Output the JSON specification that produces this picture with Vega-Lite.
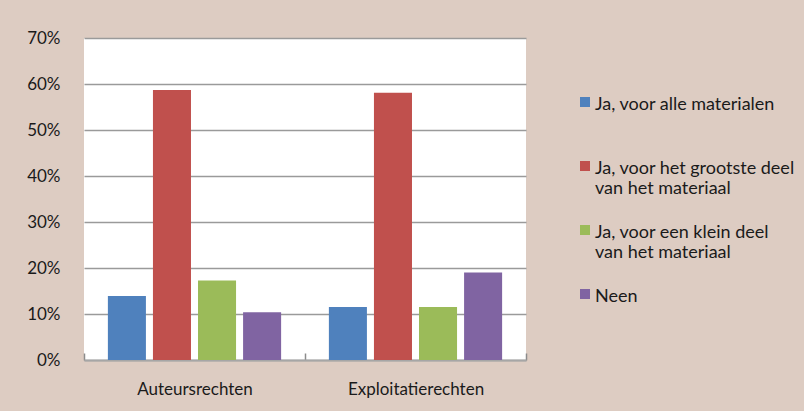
{
  "$schema": "https://vega.github.io/schema/vega-lite/v6.json",
  "autosize": {"type": "none"},
  "padding": {"left": 84, "top": 38, "right": 278, "bottom": 51},
  "width": 442,
  "height": 322,
  "background": "#ddccc2",
  "config": {
    "view": {"fill": "white", "stroke": null},
    "font": "Lato",
    "text": {"font": "Lato"}
  },
  "data": {
    "values": [
      {"recht": "Auteursrechten", "antwoord": "Ja, voor alle materialen", "pct": 13.9},
      {"recht": "Auteursrechten", "antwoord": "Ja, voor het grootste deel van het materiaal", "pct": 58.7},
      {"recht": "Auteursrechten", "antwoord": "Ja, voor een klein deel van het materiaal", "pct": 17.3},
      {"recht": "Auteursrechten", "antwoord": "Neen", "pct": 10.4},
      {"recht": "Exploitatierechten", "antwoord": "Ja, voor alle materialen", "pct": 11.5},
      {"recht": "Exploitatierechten", "antwoord": "Ja, voor het grootste deel van het materiaal", "pct": 58.1},
      {"recht": "Exploitatierechten", "antwoord": "Ja, voor een klein deel van het materiaal", "pct": 11.5},
      {"recht": "Exploitatierechten", "antwoord": "Neen", "pct": 19.0}
    ]
  },
  "mark": {"type": "bar"},
  "encoding": {
    "x": {
      "field": "recht",
      "type": "nominal",
      "sort": null,
      "title": null,
      "scale": {"paddingInner": 0, "paddingOuter": 0},
      "axis": {
        "labelAngle": 0,
        "labelFontSize": 17,
        "labelColor": "#1a1a1a",
        "labelPadding": 28,
        "domainColor": "#a6a6a6",
        "domainWidth": 2,
        "tickBand": "extent",
        "tickColor": "#8c8c8c",
        "tickWidth": 1.5,
        "tickSize": -7,
        "grid": false
      }
    },
    "xOffset": {
      "field": "antwoord",
      "type": "nominal",
      "sort": null,
      "scale": {"paddingInner": 0.156, "paddingOuter": 0.53}
    },
    "y": {
      "field": "pct",
      "type": "quantitative",
      "title": null,
      "scale": {"domain": [0, 70]},
      "axis": {
        "values": [0, 10, 20, 30, 40, 50, 60, 70],
        "labelExpr": "datum.value + '%'",
        "labelFontSize": 17,
        "labelColor": "#1a1a1a",
        "labelPadding": 24,
        "domain": false,
        "ticks": false,
        "grid": true,
        "gridColor": "#9a9a9a",
        "gridWidth": 1.5
      }
    },
    "color": {
      "field": "antwoord",
      "type": "nominal",
      "sort": null,
      "scale": {
        "domain": ["Ja, voor alle materialen", "Ja, voor het grootste deel van het materiaal", "Ja, voor een klein deel van het materiaal", "Neen"],
        "range": ["#4f81bd", "#c0504d", "#9bbb59", "#8064a2"]
      },
      "legend": {
        "title": null,
        "orient": "none",
        "legendX": 492,
        "legendY": 49,
        "symbolType": "M-1,0.2H1V2.2H-1Z",
        "symbolSize": 100,
        "symbolStrokeWidth": 0,
        "labelFontSize": 18,
        "labelColor": "#1a1a1a",
        "labelOffset": 1,
        "labelLimit": 300,
        "labelBaseline": "top",
        "rowPadding": 17,
        "labelExpr": "datum.label == 'Ja, voor het grootste deel van het materiaal' ? ['Ja, voor het grootste deel', 'van het materiaal'] : datum.label == 'Ja, voor een klein deel van het materiaal' ? ['Ja, voor een klein deel', 'van het materiaal'] : [datum.label, '']"
      }
    }
  }
}
